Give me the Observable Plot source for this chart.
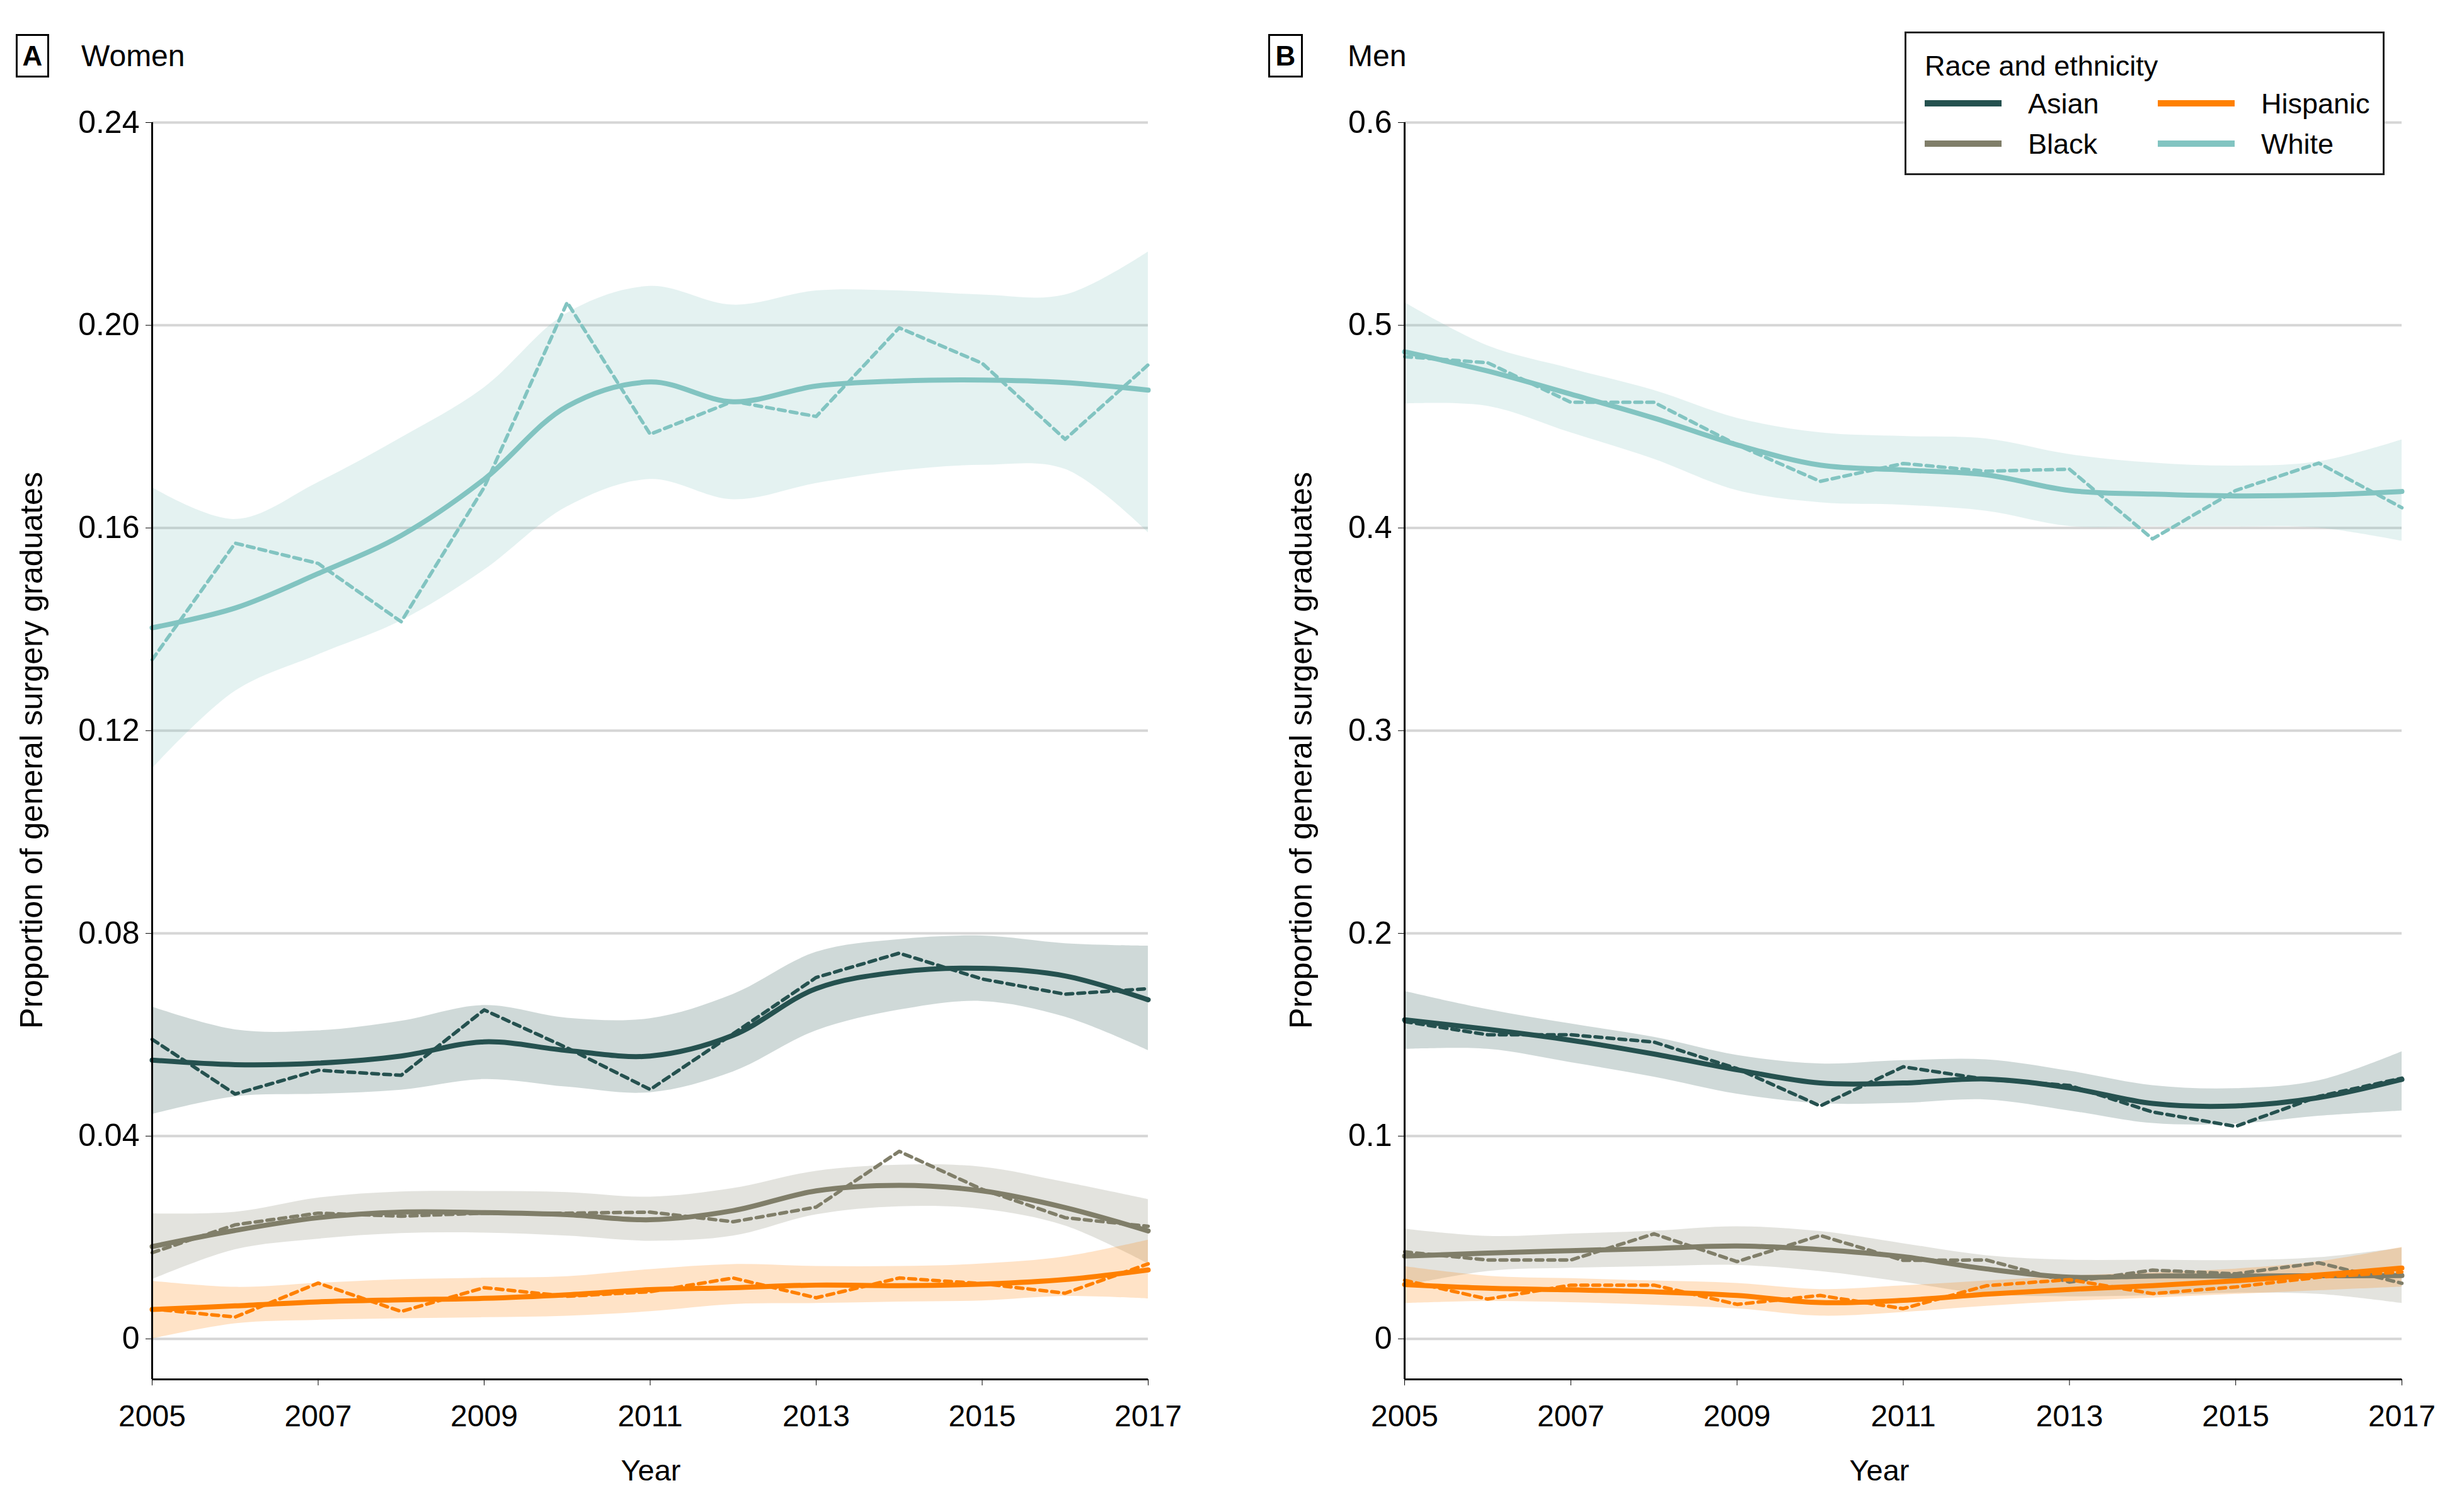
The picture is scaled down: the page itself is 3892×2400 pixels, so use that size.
<!DOCTYPE html>
<html><head><meta charset="utf-8">
<script src="https://cdn.jsdelivr.net/npm/d3@7"></script>
<script src="https://cdn.jsdelivr.net/npm/@observablehq/plot@0.6"></script>
<style>
body{margin:0;background:#fff;}
#root{position:relative;width:3892px;height:2400px;overflow:hidden;font-family:"Liberation Sans",Arial,sans-serif;color:#000;background:#fff;}
.abs{position:absolute;white-space:nowrap;line-height:1;}
.panelbox{position:absolute;border:3px solid #000;box-sizing:border-box;font-weight:bold;font-size:44px;display:flex;align-items:center;justify-content:center;}
.title{font-size:48px;}
.ylab{font-size:50px;transform:translate(-50%,-50%) rotate(-90deg);}
.xlab{font-size:47px;transform:translate(-50%,-50%);}
.legend{position:absolute;border:3px solid #222;box-sizing:border-box;}
.sw{position:absolute;height:10px;}
.lt{font-size:45px;transform:translateY(-50%);}
svg{position:absolute;top:0;}
</style></head><body><div id="root"></div>
<script>
// ---------- data ----------
const years = [2005,2006,2007,2008,2009,2010,2011,2012,2013,2014,2015,2016,2017];
const xTicks = [2005,2007,2009,2011,2013,2015,2017];
const womenTicks = [0,0.04,0.08,0.12,0.16,0.20,0.24];
const menTicks = [0,0.1,0.2,0.3,0.4,0.5,0.6];
const races = ["White","Asian","Black","Hispanic"];
const legendOrder = ["Asian","Hispanic","Black","White"];

// Women
const womenWhiteObs = [0.134,0.157,0.153,0.1415,0.168,0.2045,0.1785,0.185,0.182,0.1995,0.1925,0.1775,0.1922];
const womenWhiteFit = [0.1403,0.1442,0.151,0.1585,0.1696,0.184,0.1888,0.1849,0.188,0.189,0.1892,0.1887,0.1872];
const womenWhiteHi  = [0.168,0.1617,0.169,0.1778,0.1877,0.2024,0.2077,0.204,0.2068,0.2068,0.206,0.206,0.2145];
const womenWhiteLo  = [0.1125,0.1278,0.135,0.1417,0.1517,0.1642,0.1696,0.1656,0.1688,0.1713,0.1724,0.1716,0.1591];

const womenAsianObs = [0.0591,0.0483,0.053,0.052,0.0649,0.0574,0.0492,0.0602,0.0713,0.0761,0.071,0.068,0.0691];
const womenAsianFit = [0.055,0.0541,0.0544,0.0558,0.0586,0.0569,0.0558,0.0599,0.0691,0.0724,0.0731,0.0716,0.0669];
const womenAsianHi  = [0.0655,0.061,0.0608,0.0627,0.0658,0.0633,0.0632,0.068,0.0763,0.0788,0.0795,0.078,0.0775];
const womenAsianLo  = [0.0443,0.0478,0.0483,0.0491,0.0512,0.0497,0.0486,0.0527,0.0608,0.0649,0.0666,0.0635,0.0569];

const womenBlackObs = [0.017,0.0225,0.0248,0.0242,0.0248,0.0248,0.025,0.0231,0.026,0.037,0.0295,0.0239,0.0222];
const womenBlackFit = [0.0182,0.0214,0.0239,0.025,0.0249,0.0245,0.0235,0.0253,0.0292,0.0303,0.0292,0.0259,0.0213];
const womenBlackHi  = [0.0247,0.025,0.0278,0.029,0.0291,0.0289,0.028,0.0297,0.0331,0.0343,0.0339,0.0309,0.0275];
const womenBlackLo  = [0.0117,0.0176,0.0197,0.0208,0.0209,0.0203,0.0193,0.0203,0.0245,0.0261,0.0256,0.0223,0.0148];

const womenHispanicObs = [0.0059,0.0043,0.011,0.0054,0.0101,0.0084,0.0093,0.012,0.0081,0.012,0.0109,0.009,0.0148];
const womenHispanicFit = [0.0058,0.0065,0.0073,0.0077,0.008,0.0087,0.0097,0.0101,0.0106,0.0105,0.0108,0.0117,0.0136];
const womenHispanicHi  = [0.0114,0.0102,0.011,0.0117,0.012,0.0123,0.0137,0.0147,0.0143,0.0143,0.0148,0.0162,0.0195];
const womenHispanicLo  = [0.0,0.003,0.0037,0.004,0.0042,0.0045,0.0054,0.0068,0.007,0.0073,0.0075,0.0084,0.0079];

// Men
const menWhiteObs = [0.4845,0.4815,0.462,0.462,0.441,0.423,0.4318,0.428,0.429,0.3946,0.4185,0.432,0.410];
const menWhiteFit = [0.4869,0.4774,0.466,0.4542,0.441,0.431,0.4286,0.4262,0.4185,0.4167,0.4158,0.4163,0.418];
const menWhiteHi  = [0.5113,0.4899,0.4786,0.4679,0.4542,0.447,0.4452,0.444,0.4363,0.4321,0.4306,0.4327,0.4435];
const menWhiteLo  = [0.4613,0.4601,0.447,0.434,0.4185,0.4125,0.4113,0.4083,0.4008,0.4006,0.4006,0.4,0.3935];

const menAsianObs = [0.1565,0.150,0.150,0.1464,0.1333,0.1149,0.1342,0.128,0.125,0.1119,0.1048,0.1196,0.1286];
const menAsianFit = [0.1574,0.1527,0.1473,0.1405,0.1327,0.1262,0.1262,0.1282,0.1238,0.1161,0.1149,0.119,0.128];
const menAsianHi  = [0.1714,0.1625,0.1554,0.1488,0.1399,0.1357,0.1373,0.1377,0.1321,0.125,0.1235,0.1274,0.1417];
const menAsianLo  = [0.1429,0.1429,0.1363,0.1292,0.1208,0.1161,0.1163,0.1179,0.1125,0.1063,0.106,0.1099,0.1125];

const menBlackObs = [0.0429,0.0389,0.0389,0.0518,0.0381,0.051,0.0387,0.0389,0.028,0.0339,0.0321,0.0375,0.0274];
const menBlackFit = [0.0408,0.0423,0.0435,0.0446,0.0458,0.044,0.0405,0.0345,0.0304,0.031,0.031,0.0311,0.0312];
const menBlackHi  = [0.0542,0.0506,0.0518,0.0532,0.0554,0.053,0.047,0.0411,0.0389,0.0389,0.0387,0.0401,0.0449];
const menBlackLo  = [0.0262,0.0333,0.0349,0.0357,0.0363,0.0333,0.028,0.022,0.0208,0.0214,0.0226,0.022,0.0175];

const menHispanicObs = [0.0289,0.0196,0.0265,0.0265,0.017,0.0214,0.0149,0.0262,0.0292,0.0223,0.0256,0.0304,0.033];
const menHispanicFit = [0.0268,0.025,0.0242,0.0232,0.0214,0.0179,0.019,0.022,0.0244,0.0262,0.0286,0.0315,0.0349];
const menHispanicHi  = [0.0357,0.031,0.0298,0.0286,0.0274,0.0244,0.0262,0.0286,0.031,0.0327,0.0345,0.0381,0.0452];
const menHispanicLo  = [0.0175,0.0185,0.0179,0.0167,0.0149,0.0113,0.0131,0.0161,0.0185,0.0202,0.022,0.0238,0.0256];

// ---------- styles ----------
const colors = {Asian:"#25514f", Hispanic:"#ff8000", Black:"#807e69", White:"#82c4c1"};

const src = {
  women: {White:[womenWhiteObs,womenWhiteFit,womenWhiteLo,womenWhiteHi], Asian:[womenAsianObs,womenAsianFit,womenAsianLo,womenAsianHi], Black:[womenBlackObs,womenBlackFit,womenBlackLo,womenBlackHi], Hispanic:[womenHispanicObs,womenHispanicFit,womenHispanicLo,womenHispanicHi]},
  men: {White:[menWhiteObs,menWhiteFit,menWhiteLo,menWhiteHi], Asian:[menAsianObs,menAsianFit,menAsianLo,menAsianHi], Black:[menBlackObs,menBlackFit,menBlackLo,menBlackHi], Hispanic:[menHispanicObs,menHispanicFit,menHispanicLo,menHispanicHi]}
};
function rows(key, race){
  const [o,f,l,h] = src[key][race];
  return years.map((y,i)=>({year:y, race, obs:o[i], fit:f[i], lo:l[i], hi:h[i]}));
}

function panel({key, yDomain, yTicks, fmt, width, mL, mR}){
  const marks = [Plot.gridY({ticks:yTicks, stroke:"#d6d6d6", strokeOpacity:1, strokeWidth:4})];
  for (const r of races) marks.push(Plot.areaY(rows(key,r), {x:"year", y1:"lo", y2:"hi", fill:colors[r], fillOpacity:0.22, curve:"catmull-rom"}));
  for (const r of races) {
    marks.push(Plot.lineY(rows(key,r), {x:"year", y:"obs", stroke:colors[r], strokeWidth:5.5, strokeDasharray:"11,8"}));
    marks.push(Plot.lineY(rows(key,r), {x:"year", y:"fit", stroke:colors[r], strokeWidth:8, curve:"catmull-rom"}));
  }
  marks.push(Plot.ruleX([2005], {y1:yDomain[0], y2:yDomain[1], stroke:"#000", strokeWidth:3}));
  marks.push(Plot.ruleY([yDomain[0]], {x1:2005, x2:2017, stroke:"#000", strokeWidth:3}));
  marks.push(Plot.axisY({ticks:yTicks, tickFormat:fmt, tickSize:10, tickPadding:10, label:null, stroke:"#000", fill:"#000", fontSize:50}));
  marks.push(Plot.axisX({ticks:xTicks, tickFormat:d=>String(d), tickSize:10, tickPadding:30, label:null, stroke:"#000", fill:"#000", fontSize:48}));
  return Plot.plot({
    width, height:2400, marginLeft:mL, marginRight:mR, marginTop:194, marginBottom:211,
    x:{domain:[2005,2017], axis:null}, y:{domain:yDomain, axis:null},
    style:{fontSize:"48px", fontFamily:'"Liberation Sans", Arial, sans-serif', background:"transparent", color:"#000", overflow:"visible"},
    marks
  });
}

const root = document.getElementById("root");
const A = panel({key:"women", yDomain:[-0.008,0.24], yTicks:womenTicks, fmt:d=>d===0?"0":d.toFixed(2), width:1950, mL:241, mR:128});
A.style.left = "0px";
root.appendChild(A);
const B = panel({key:"men", yDomain:[-0.02,0.6], yTicks:menTicks, fmt:d=>d===0?"0":d.toFixed(1), width:1942, mL:279, mR:80});
B.style.left = "1950px";
root.appendChild(B);

function add(html, cls, styles){
  const e = document.createElement("div");
  e.className = cls; e.innerHTML = html;
  Object.assign(e.style, styles);
  root.appendChild(e); return e;
}
// panel headers
add("A","panelbox",{left:"25px",top:"54px",width:"53px",height:"69px"});
add("Women","abs title",{left:"129px",top:"65px"});
add("B","panelbox",{left:"2013px",top:"54px",width:"55px",height:"69px"});
add("Men","abs title",{left:"2139px",top:"65px"});
// axis titles
add("Proportion of general surgery graduates","abs ylab",{left:"50px",top:"1191px"});
add("Proportion of general surgery graduates","abs ylab",{left:"2065px",top:"1191px"});
add("Year","abs xlab",{left:"1033px",top:"2333px"});
add("Year","abs xlab",{left:"2983px",top:"2333px"});
// legend
add("","legend",{left:"3023px",top:"50px",width:"762px",height:"228px",background:"#fff"});
add("Race and ethnicity","abs lt",{left:"3055px",top:"104px"});
const pos = {Asian:[3055,164], Hispanic:[3425,164], Black:[3055,228], White:[3425,228]};
for (const r of legendOrder){
  const [x,y] = pos[r];
  add("","sw",{left:x+"px",top:(y-5)+"px",width:"122px",background:colors[r]});
  add(r,"abs lt",{left:(x+164)+"px",top:y+"px"});
}
</script></body></html>
